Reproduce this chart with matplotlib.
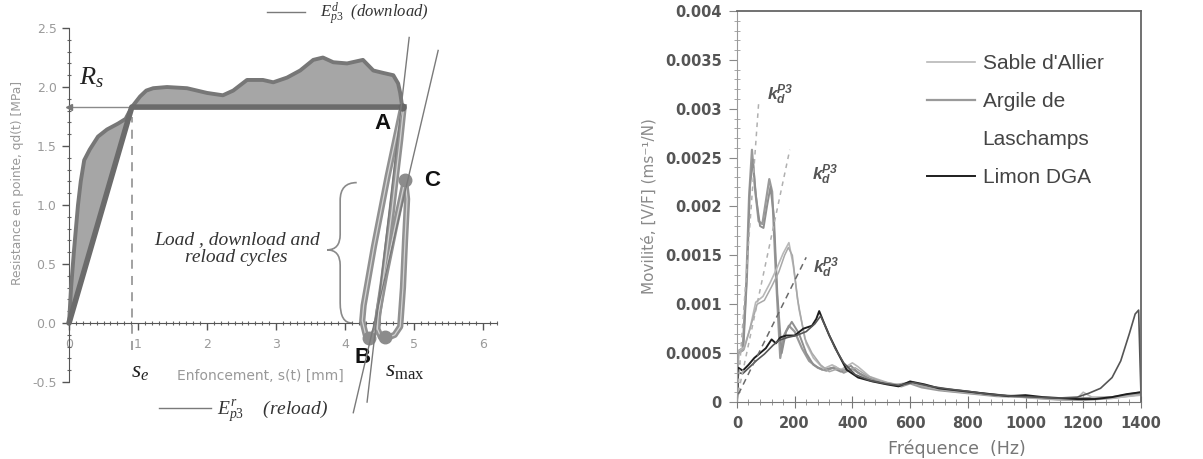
import numpy as np
import matplotlib
matplotlib.use('Agg')
import matplotlib.pyplot as plt
from matplotlib.path import Path
from matplotlib.patches import PathPatch
from matplotlib.lines import Line2D
from matplotlib.ticker import MultipleLocator, FixedLocator, FuncFormatter

plt.rcParams['mathtext.fontset'] = 'custom'
plt.rcParams['mathtext.rm'] = 'Liberation Serif'
plt.rcParams['mathtext.it'] = 'Liberation Serif:italic'
plt.rcParams['mathtext.bf'] = 'Liberation Sans:bold:italic'

# ---------------- left panel : penetration curve ----------------
s_load = [0.0, 0.03, 0.07, 0.10, 0.13, 0.17, 0.22, 0.30, 0.42, 0.55, 0.71, 0.82, 0.91,
          1.03, 1.12, 1.22, 1.42, 1.71, 2.0, 2.23, 2.38, 2.58, 2.81, 2.96, 3.16, 3.35,
          3.54, 3.68, 3.83, 4.03, 4.26, 4.41, 4.55, 4.70, 4.77, 4.80, 4.83]
q_load = [0.0, 0.30, 0.60, 0.80, 1.00, 1.20, 1.38, 1.47, 1.58, 1.64, 1.69, 1.73, 1.83,
          1.92, 1.97, 1.99, 2.00, 1.99, 1.95, 1.93, 1.97, 2.06, 2.06, 2.04, 2.08, 2.14,
          2.23, 2.25, 2.21, 2.20, 2.23, 2.14, 2.12, 2.10, 2.03, 1.95, 1.83]

Rs = 1.83      # MPa
se = 0.91      # mm
smax = 4.83    # mm
ideal_s = [0.0, se, smax]
ideal_q = [0.0, Rs, Rs]

# unload / reload cycles
cyc1_s = [4.83, 4.62, 4.42, 4.27, 4.25, 4.30, 4.38, 4.45, 4.55, 4.68, 4.80, 4.85]
cyc1_q = [1.83, 1.25, 0.65, 0.15, 0.02, -0.10, -0.13, -0.05, 0.35, 0.95, 1.55, 1.83]
cyc2_s = [4.87, 4.72, 4.58, 4.48, 4.47, 4.52, 4.60, 4.72, 4.80, 4.84, 4.87, 4.90, 4.87]
cyc2_q = [1.21, 0.80, 0.40, 0.08, -0.05, -0.12, -0.13, -0.10, -0.03, 0.30, 0.70, 1.05, 1.21]
blob_s = [4.35, 4.58, 4.87]
blob_q = [-0.13, -0.12, 1.21]

# tangent moduli
down_s = [4.32, 4.93]
down_q = [-0.67, 2.42]
rel_s = [4.12, 5.35]
rel_q = [-0.76, 2.31]

# ---------------- right panel : mobility spectra ----------------
arg1_f = [0, 4, 20, 32, 42, 52, 62, 75, 88, 100, 112, 122, 135, 150, 163, 180, 200, 225,
          250, 280, 310, 340, 370, 400, 430, 470, 520, 570, 600, 640, 700, 800, 900, 1000,
          1100, 1200, 1300, 1400]
arg1_y = [0, 0.00052, 0.00055, 0.0012, 0.0021, 0.00258, 0.0022, 0.00185, 0.00182, 0.00205,
          0.00228, 0.00215, 0.0013, 0.00045, 0.00068, 0.00078, 0.00072, 0.00055, 0.00042,
          0.00035, 0.00032, 0.00036, 0.0003, 0.00034, 0.00028, 0.00022, 0.00019, 0.00016,
          0.00019, 0.00015, 0.00012, 0.00009, 0.00006, 0.00005, 0.00003, 0.00002, 0.00004,
          0.00008]
arg2_f = [0, 5, 22, 35, 45, 55, 66, 80, 92, 104, 116, 128, 140, 155, 170, 190, 215, 240,
          265, 295, 330, 360, 395, 420, 460, 510, 560, 610, 660, 720, 820, 920, 1020, 1120,
          1200, 1300, 1400]
arg2_y = [0, 0.0005, 0.00053, 0.0013, 0.0022, 0.00248, 0.0021, 0.0018, 0.00178, 0.002,
          0.0022, 0.0019, 0.0011, 0.0005, 0.00072, 0.00082, 0.0007, 0.0005, 0.00038, 0.00033,
          0.00035, 0.00031, 0.00037, 0.0003, 0.00024, 0.0002, 0.00017, 0.0002, 0.00015,
          0.00012, 0.00009, 0.00007, 0.00005, 0.00003, 0.00004, 0.00005, 0.0001]
sab1_f = [0, 5, 25, 45, 65, 90, 115, 140, 160, 180, 195, 215, 240, 265, 300, 330, 360, 400,
          420, 460, 520, 570, 600, 650, 720, 820, 920, 1020, 1120, 1180, 1200, 1230, 1300, 1400]
sab1_y = [0, 0.00052, 0.00056, 0.00075, 0.00102, 0.00108, 0.00122, 0.00138, 0.00152, 0.00163,
          0.0014, 0.00095, 0.0006, 0.00045, 0.00034, 0.00038, 0.00033, 0.0004, 0.00036,
          0.00026, 0.0002, 0.00017, 0.00021, 0.00016, 0.00012, 0.0001, 0.00007, 0.00004,
          0.00002, 0.00004, 0.0001, 0.00005, 0.00004, 0.00007]
sab2_f = [0, 5, 25, 50, 70, 95, 120, 145, 165, 178, 192, 210, 235, 260, 290, 320, 350, 380,
          410, 450, 500, 550, 600, 660, 740, 840, 940, 1040, 1140, 1220, 1300, 1400]
sab2_y = [0, 0.0005, 0.00054, 0.0008, 0.001, 0.00104, 0.00118, 0.00133, 0.0015, 0.00158,
          0.0015, 0.00105, 0.00065, 0.0005, 0.00038, 0.00031, 0.00034, 0.00032, 0.00035,
          0.00027, 0.00021, 0.00018, 0.0002, 0.00015, 0.00011, 0.00008, 0.00006, 0.00004,
          0.00002, 0.00003, 0.00005, 0.00009]
lim1_f = [0, 5, 20, 40, 60, 80, 100, 120, 135, 150, 170, 200, 230, 260, 275, 285, 300, 320,
          350, 380, 420, 470, 520, 560, 600, 650, 700, 760, 820, 880, 940, 1000, 1060, 1120,
          1180, 1240, 1300, 1350, 1400]
lim1_y = [0, 0.00035, 0.00032, 0.00038, 0.00045, 0.0005, 0.00055, 0.00064, 0.0006, 0.00066,
          0.00068, 0.00068, 0.00075, 0.00078, 0.00085, 0.00093, 0.00082, 0.00068, 0.0005,
          0.00033, 0.00025, 0.00021, 0.00018, 0.00016, 0.00021, 0.00018, 0.00014, 0.00012,
          0.0001, 0.00008, 0.00006, 0.00007, 0.00005, 0.00004, 0.00003, 0.00003, 0.00005,
          0.00008, 0.0001]
lim2_f = [0, 5, 20, 45, 70, 95, 125, 145, 175, 205, 240, 270, 290, 310, 340, 370, 410, 460,
          510, 560, 610, 670, 740, 800, 870, 950, 1030, 1110, 1180, 1220, 1260, 1300, 1330,
          1360, 1380, 1392, 1397, 1400]
lim2_y = [0, 0.0003, 0.00029, 0.00036, 0.00043, 0.00049, 0.00058, 0.00063, 0.00066, 0.00068,
          0.00072, 0.0008, 0.00088, 0.00075, 0.00055, 0.0004, 0.00028, 0.00022, 0.00019,
          0.00017, 0.0002, 0.00016, 0.00013, 0.00011, 0.00008, 0.00006, 0.00005, 0.00004,
          0.00005, 0.00009, 0.00014, 0.00025, 0.00042, 0.0007, 0.0009, 0.00094, 0.0004, 0.0001]

# kd tangents
kd1_f, kd1_y = [3, 75], [0.0001, 0.00305]
kd2_f, kd2_y = [5, 183], [0.0001, 0.00258]
kd3_f, kd3_y = [5, 240], [0.00008, 0.00148]
kd_lab_f = [104, 260, 263]
kd_lab_y = [0.00314, 0.00232, 0.00137]

fig = plt.figure(figsize=(12.03, 4.59), dpi=100)
ax1 = fig.add_axes([0.0459, 0.0649, 0.3728, 0.9126])
ax2 = fig.add_axes([0.6126, 0.1242, 0.3358, 0.8519])

# ---------- left ----------
q_low = np.interp(s_load, ideal_s, ideal_q)
ax1.fill_between(s_load, q_load, q_low, color='#a6a6a6', lw=0, zorder=2)
ax1.plot(s_load, q_load, color='#777777', lw=2.8, solid_capstyle='round', zorder=3)
ax1.plot([0, smax], [Rs, Rs], color='#8a8a8a', lw=1, zorder=2)
ax1.plot([0], [Rs], marker='<', color='#777777', ms=5, zorder=3)
ax1.plot(ideal_s, ideal_q, color='#6b6b6b', lw=4, solid_capstyle='round', zorder=4)
ax1.plot([se, se], [-0.23, 1.75], ls=(0, (5, 4)), color='#9a9a9a', lw=1.3, zorder=2)

for cs, cq in [(cyc1_s, cyc1_q), (cyc2_s, cyc2_q)]:
    ax1.plot(cs, cq, color='#919191', lw=4.5, zorder=4)
    ax1.plot(cs, cq, color='#d2d2d2', lw=0.9, zorder=5)
ax1.plot(blob_s, blob_q, 'o', color='#8c8c8c', ms=9, zorder=6)
ax1.plot([smax], [Rs], 'o', color='#666666', ms=5, zorder=6)

l_down, = ax1.plot(down_s, down_q, color='#7a7a7a', lw=1, zorder=6, clip_on=False)
l_rel, = ax1.plot(rel_s, rel_q, color='#7a7a7a', lw=1, zorder=6, clip_on=False)

# curly brace
verts = [(4.17, 1.19), (3.93, 1.19), (3.93, 1.04), (3.93, 0.75), (3.93, 0.62), (3.74, 0.62),
         (3.93, 0.62), (3.93, 0.49), (3.93, 0.17), (3.93, 0.0), (4.10, 0.0)]
codes = [Path.MOVETO, Path.CURVE3, Path.CURVE3, Path.LINETO, Path.CURVE3, Path.CURVE3,
         Path.CURVE3, Path.CURVE3, Path.LINETO, Path.CURVE3, Path.CURVE3]
ax1.add_patch(PathPatch(Path(verts, codes), fc='none', ec='#8a8a8a', lw=1.2))

ax1.text(0.33, 2.08, r'$R_s$', fontsize=19, ha='center', va='center', color='#222222')
ax1.text(1.03, -0.41, r'$s_e$', fontsize=17, ha='center', va='center', color='#222222')
ax1.text(4.87, -0.40, r'$s_{\mathrm{max}}$', fontsize=17, ha='center', va='center', color='#222222')
for lab, x, y in [('A', 4.55, 1.69), ('B', 4.25, -0.29), ('C', 5.26, 1.21)]:
    ax1.text(x, y, lab, fontsize=16, fontweight='bold', family='Liberation Sans',
             ha='center', va='center', color='#111111')
ax1.text(2.43, 0.63, 'Load , download and\nreload cycles', family='Liberation Serif',
         style='italic', fontsize=14, ha='center', va='center', linespacing=1.1, color='#333333')

leg_d = ax1.legend([l_down], [r'$E^{d}_{p3}$  (download)'], loc='center left',
                   bbox_to_anchor=(0.472, 0.991), frameon=False, borderpad=0, borderaxespad=0,
                   prop={'family': 'Liberation Serif', 'style': 'italic', 'size': 12},
                   handlelength=2.3, handletextpad=0.9, labelcolor='#333333')
ax1.add_artist(leg_d)
ax1.legend([l_rel], [r'$E^{r}_{p3}$    (reload)'], loc='center left',
           bbox_to_anchor=(0.231, 0.0434), frameon=False, borderpad=0, borderaxespad=0,
           prop={'family': 'Liberation Serif', 'style': 'italic', 'size': 14},
           handlelength=2.7, handletextpad=0.3, labelcolor='#333333')

ax1.set_xlim(-0.2, 6.3)
ax1.set_ylim(-0.9, 2.65)
ax1.spines['top'].set_visible(False)
ax1.spines['right'].set_visible(False)
ax1.spines['bottom'].set_position(('data', 0))
ax1.spines['bottom'].set_bounds(0, 6.2)
ax1.spines['left'].set_position(('data', 0))
ax1.spines['left'].set_bounds(-0.5, 2.5)
for sp in ['bottom', 'left']:
    ax1.spines[sp].set_color('#555555')
ax1.set_xticks(range(7))
ax1.set_yticks(np.arange(-0.5, 2.51, 0.5))
ax1.yaxis.set_major_formatter(FuncFormatter(lambda v, p: '%.1f' % v))
ax1.xaxis.set_minor_locator(FixedLocator(np.arange(0, 6.21, 0.1)))
ax1.yaxis.set_minor_locator(FixedLocator(np.arange(-0.5, 2.51, 0.1)))
ax1.tick_params(which='major', direction='out', length=5, width=1, color='#555555',
                labelsize=9, labelcolor='#9a9a9a', pad=4)
ax1.tick_params(axis='x', which='major', pad=6)
ax1.tick_params(which='minor', direction='inout', length=3, width=0.8, color='#666666')
ax1.set_ylabel('Resistance en pointe, qd(t) [MPa]', fontsize=8.8, color='#999999')
ax1.yaxis.set_label_coords(-0.07, 0.588)
ax1.set_xlabel('Enfoncement, s(t) [mm]', fontsize=10, color='#999999')
ax1.xaxis.set_label_coords(0.4566, 0.1437)

# ---------- right ----------
la, = ax2.plot(arg1_f, arg1_y, color='#9a9a9a', lw=1.6)
ax2.plot(arg2_f, arg2_y, color='#8f8f8f', lw=1.4)
ls_, = ax2.plot(sab1_f, sab1_y, color='#b8b8b8', lw=1.2)
ax2.plot(sab2_f, sab2_y, color='#a8a8a8', lw=1.1)
ll, = ax2.plot(lim1_f, lim1_y, color='#1e1e1e', lw=1.4)
ax2.plot(lim2_f, lim2_y, color='#555555', lw=1.2)

ax2.plot(kd1_f, kd1_y, ls=(0, (3, 3)), color='#b0b0b0', lw=1.1)
ax2.plot(kd2_f, kd2_y, ls=(0, (3, 3)), color='#b0b0b0', lw=1.1)
ax2.plot(kd3_f, kd3_y, ls=(0, (4, 3)), color='#6a6a6a', lw=1.1)
for f, y in zip(kd_lab_f, kd_lab_y):
    ax2.text(f, y, r'$\mathbf{k_d^{P3}}$', fontsize=12.5, ha='left', va='center', color='#555555')

blank = Line2D([], [], color='none')
ax2.legend([ls_, la, blank, ll], ["Sable d'Allier", 'Argile de', 'Laschamps', 'Limon DGA'],
           loc='upper left', bbox_to_anchor=(0.47, 0.89), frameon=False, borderpad=0,
           borderaxespad=0, prop={'family': 'Liberation Sans', 'size': 15},
           handlelength=2.3, handletextpad=0.38, labelspacing=0.91, labelcolor='#444444')

ax2.set_xlim(0, 1400)
ax2.set_ylim(0, 0.004)
ax2.spines['left'].set_color('#9a9a9a')
ax2.spines['bottom'].set_color('#777777')
ax2.spines['top'].set_color('#666666')
ax2.spines['right'].set_color('#666666')
ax2.spines['top'].set_linewidth(1.3)
ax2.spines['right'].set_linewidth(1.3)
ax2.xaxis.set_major_locator(MultipleLocator(200))
ax2.xaxis.set_minor_locator(MultipleLocator(40))
ax2.yaxis.set_major_locator(MultipleLocator(0.0005))
ax2.yaxis.set_minor_locator(MultipleLocator(0.0001))
ax2.yaxis.set_major_formatter(FuncFormatter(lambda v, p: '%g' % round(v, 6)))
ax2.tick_params(axis='x', which='major', direction='inout', length=8, color='#777777',
                labelsize=10.5, labelcolor='#555555', pad=6)
ax2.tick_params(axis='x', which='minor', direction='inout', length=5, color='#888888')
ax2.tick_params(axis='y', which='major', direction='out', length=6, color='#888888',
                labelsize=10.5, labelcolor='#555555', pad=5)
ax2.tick_params(axis='y', which='minor', direction='inout', length=4, color='#999999')
plt.setp(ax2.get_xticklabels() + ax2.get_yticklabels(), fontweight='bold')
ax2.set_ylabel('Movilité, [V/F] (ms⁻¹/N)', fontsize=11, color='#8a8a8a')
ax2.yaxis.set_label_coords(-0.2, 0.5)
ax2.set_xlabel('Fréquence  (Hz)', fontsize=12.5, color='#777777')
ax2.xaxis.set_label_coords(0.545, -0.095)

fig.savefig('out.png', dpi=100)
